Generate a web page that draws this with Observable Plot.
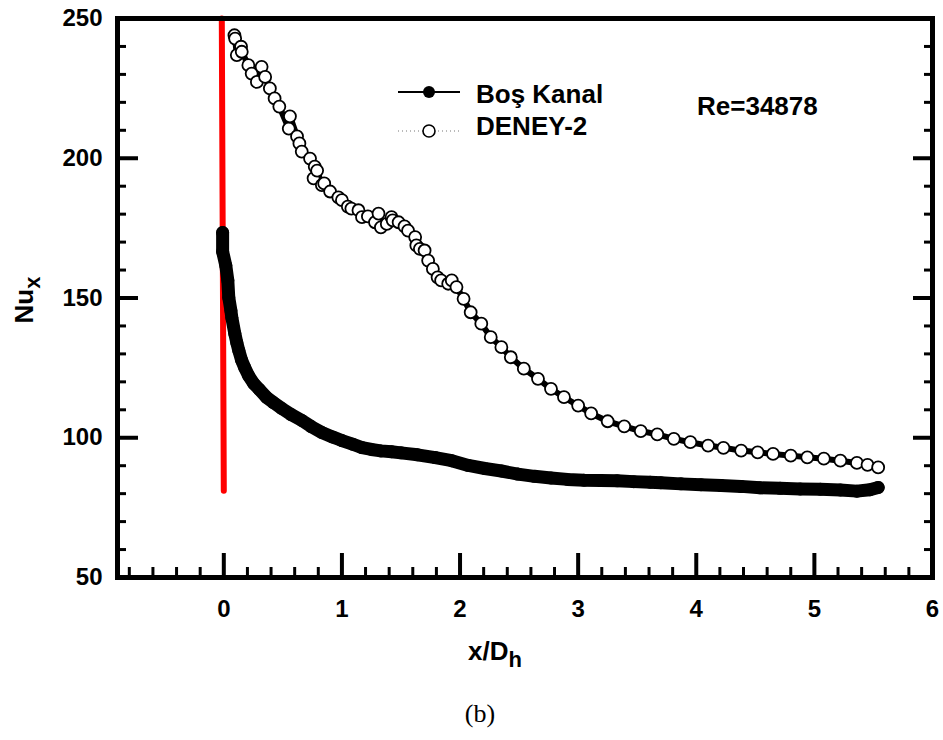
<!DOCTYPE html>
<html><head><meta charset="utf-8">
<script src="https://cdn.jsdelivr.net/npm/d3@7"></script>
<script src="https://cdn.jsdelivr.net/npm/@observablehq/plot@0.6"></script>
<style>
body{margin:0;background:#fff;}
svg{font-family:"Liberation Sans",Arial,Helvetica,sans-serif;}
</style>
</head><body><div id="chart"></div>
<script>
// ---- data ----
const bosKanalX  = [-0.01,-0.01,0.017,0.034,0.042,0.06,0.068,0.093,0.11,0.127,0.15,0.177,0.21,0.253,0.30,0.363,0.42,0.49,0.57,0.66,0.74,0.83,0.92,1.00,1.09,1.17,1.25,1.33,1.42,1.50,1.64,1.79,1.93,2.07,2.21,2.35,2.49,2.63,2.77,2.91,3.05,3.19,3.33,3.47,3.61,3.70,3.87,4.04,4.21,4.38,4.54,4.71,4.88,5.05,5.22,5.36,5.47,5.54];
const bosKanalNu = [173.4,166.6,161.6,156.3,150.2,145.5,143.0,137.3,134.0,131.2,127.8,125.1,122.2,119.4,117.3,114.4,112.6,110.5,108.3,106.2,104.0,101.9,100.3,99.0,97.7,96.5,95.8,95.3,95.0,94.6,93.9,92.9,91.8,90.1,89.0,88.1,87.0,86.2,85.6,85.1,84.8,84.7,84.6,84.3,84.1,83.9,83.5,83.2,82.9,82.6,82.1,81.9,81.7,81.6,81.3,80.9,81.4,82.2];

const deney2X  = [0.09,0.096,0.11,0.146,0.152,0.208,0.236,0.28,0.32,0.35,0.39,0.43,0.47,0.55,0.56,0.62,0.64,0.66,0.73,0.77,0.76,0.79,0.83,0.85,0.90,0.97,1.00,1.05,1.08,1.14,1.17,1.22,1.28,1.31,1.33,1.38,1.42,1.43,1.48,1.53,1.56,1.62,1.63,1.66,1.70,1.73,1.77,1.81,1.84,1.90,1.93,1.97,2.03,2.09,2.18,2.26,2.35,2.43,2.54,2.66,2.77,2.88,3.00,3.11,3.25,3.39,3.53,3.67,3.81,3.95,4.10,4.23,4.38,4.52,4.65,4.80,4.94,5.08,5.22,5.36,5.45,5.54];
const deney2Nu = [244.0,242.8,236.9,239.9,238.1,233.3,230.3,227.3,232.7,229.1,225.0,221.4,218.5,210.6,215.0,207.8,205.3,202.4,199.9,197.0,192.8,195.6,190.4,191.0,188.1,186.0,185.0,182.7,182.0,181.4,178.9,179.2,177.1,180.2,175.3,176.5,178.9,177.8,177.1,175.6,174.1,171.8,168.8,167.6,167.0,163.4,160.4,157.4,156.3,155.1,156.3,153.9,149.7,144.9,140.8,136.0,132.4,128.8,124.7,121.1,117.5,114.5,111.5,108.7,105.9,104.1,102.4,101.2,99.6,98.4,97.2,96.4,95.4,94.8,94.2,93.6,93.0,92.5,91.8,91.0,90.3,89.4];

const redLineX  = [-0.017, 0.0];
const redLineNu = [250, 81];

const xTickValues = [0,1,2,3,4,5,6];
const yTickValues = [50,100,150,200,250];
const xDomain = [-0.9, 6];
const yDomain = [50, 250];

const seriesNames = ["Boş Kanal", "DENEY-2"];
const annotation = "Re=34878";

// ---- build tables ----
const bos = bosKanalX.map((x,i)=>({x, y: bosKanalNu[i]}));
const den = deney2X.map((x,i)=>({x, y: deney2Nu[i]}));
const red = redLineX.map((x,i)=>({x, y: redLineNu[i]}));

const W = 943, H = 740;
const mL = 117, mR = 11, mT = 18, mB = 163;
const fw = W - mL - mR, fh = H - mT - mB;

const xMinor = d3.range(-8, 60, 2).map(d=>d/10).filter(d => !xTickValues.includes(d));
const yMinor = d3.range(60, 250, 10).filter(d => !yTickValues.includes(d));

const svg = Plot.plot({
  width: W, height: H,
  marginLeft: mL, marginRight: mR, marginTop: mT, marginBottom: mB,
  x: {domain: xDomain},
  y: {domain: yDomain},
  style: {fontFamily: '"Liberation Sans", Arial, sans-serif', color: "black", background: "white"},
  marks: [
    // ticks (inward)
    Plot.tickY(yTickValues, {y: d=>d, stroke:"black", strokeWidth:4, insetRight: fw - 21}),
    Plot.tickY(yMinor, {y: d=>d, stroke:"black", strokeWidth:3, insetRight: fw - 9}),
    Plot.tickY(yTickValues, {y: d=>d, stroke:"black", strokeWidth:4, insetLeft: fw - 19}),
    Plot.tickY(yMinor, {y: d=>d, stroke:"black", strokeWidth:3, insetLeft: fw - 8}),
    Plot.tickX(xTickValues, {x: d=>d, stroke:"black", strokeWidth:4, insetTop: fh - 24}),
    Plot.tickX(xMinor, {x: d=>d, stroke:"black", strokeWidth:3, insetTop: fh - 10}),
    Plot.axisY({ticks: yTickValues, tickFormat: d => String(d), tickSize: 0, tickPadding: 15, fontSize: 24, fontWeight: "bold", label: null}),
    Plot.axisX({ticks: xTickValues, tickFormat: d => String(d), tickSize: 0, tickPadding: 22, fontSize: 24, fontWeight: "bold", label: null}),
    // red marker line
    Plot.line(red, {x:"x", y:"y", stroke:"#ff0000", strokeWidth:6}),
    // Boş Kanal
    Plot.line(bos, {x:"x", y:"y", stroke:"black", strokeWidth:13, strokeLinejoin:"round", strokeLinecap:"round"}),
    Plot.dot(bos, {x:"x", y:"y", r:6.5, fill:"black"}),
    // DENEY-2
    Plot.line(den, {x:"x", y:"y", stroke:"black", strokeWidth:6, strokeLinejoin:"round"}),
    Plot.dot(den, {x:"x", y:"y", r:6, fill:"white", stroke:"black", strokeWidth:1.8}),
    Plot.frame({stroke:"black", strokeWidth:5})
  ]
});

const s = d3.select(svg);
// legend
const lg = s.append("g").attr("text-anchor","start");
lg.append("line").attr("x1",398).attr("x2",460).attr("y1",92).attr("y2",92).attr("stroke","black").attr("stroke-width",2);
lg.append("circle").attr("cx",429).attr("cy",92).attr("r",6).attr("fill","black");
lg.append("line").attr("x1",398).attr("x2",460).attr("y1",131).attr("y2",131).attr("stroke","#777").attr("stroke-width",1.2).attr("stroke-dasharray","1,3");
lg.append("circle").attr("cx",429).attr("cy",131).attr("r",6).attr("fill","white").attr("stroke","black").attr("stroke-width",1.6);
lg.append("text").attr("x",476).attr("y",103).attr("text-anchor","start").attr("font-size",26).attr("font-weight","bold").text(seriesNames[0]);
lg.append("text").attr("x",476).attr("y",135).attr("text-anchor","start").attr("font-size",26).attr("font-weight","bold").text(seriesNames[1]);
s.append("text").attr("x",697).attr("y",115).attr("text-anchor","start").attr("font-size",26).attr("font-weight","bold").text(annotation);

// axis titles
const yt = s.append("text").attr("transform","translate(33,300) rotate(-90)").attr("text-anchor","middle").attr("font-weight","bold");
yt.append("tspan").attr("font-size",26).text("Nu");
yt.append("tspan").attr("font-size",22).attr("dy",7).text("x");

const xt = s.append("text").attr("x",495).attr("y",660).attr("text-anchor","middle").attr("font-weight","bold");
xt.append("tspan").attr("font-size",26).text("x/D");
xt.append("tspan").attr("font-size",22).attr("dy",7).text("h");

s.append("text").attr("x",480).attr("y",722).attr("text-anchor","middle").attr("font-size",26)
  .attr("font-family",'"Liberation Serif","Times New Roman",serif').text("(b)");

document.getElementById("chart").appendChild(svg);
</script>
</body></html>
